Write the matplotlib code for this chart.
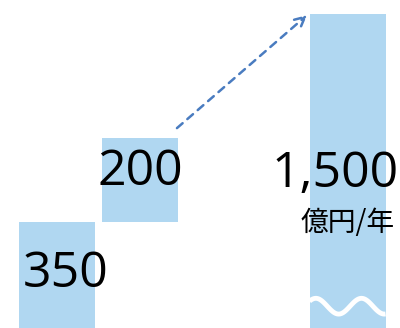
import numpy as np
import matplotlib
matplotlib.use("Agg")
import matplotlib.pyplot as plt

plt.rcParams['font.family'] = ['Open Sans', 'Noto Sans CJK JP', 'DejaVu Sans']

# schematic waterfall (not to scale)
labels = ["350", "200", "1,500"]
values = [350, 200, 1500]
unit = "億円/年"
x_pos = [0, 1, 3.5]
bottoms = [0, 350, 0]
drawn_heights = [350, 277, 1037]   # heights as drawn in the picture

bar_color = "#b0d7f1"
arrow_color = "#4a7cc0"

fig = plt.figure(figsize=(4.0, 3.28), dpi=100)
ax = fig.add_axes([0, 0, 1, 1])
ax.set_xlim(-0.687, -0.687 + 400 / 83)
ax.set_ylim(0, 1083)
ax.axis("off")

ax.bar(x_pos, drawn_heights, bottom=bottoms, width=0.916, color=bar_color, linewidth=0)

# value labels
ax.text(x_pos[0] + 0.1, 135, labels[0], fontsize=36, ha="center", va="baseline")
ax.text(x_pos[1], 472, labels[1], fontsize=36, ha="center", va="baseline")
ax.text(x_pos[2] - 0.15, 466, labels[2], fontsize=36, ha="center", va="baseline")
ax.text(x_pos[2], 320, unit, fontsize=20, ha="center", va="baseline",
        family=['Noto Sans CJK JP', 'DejaVu Sans'])

# dashed arrow from bar 2 to bar 3
ax.annotate("", xy=(x_pos[2] - 0.488, 1033), xytext=(x_pos[1] + 0.445, 660),
            arrowprops=dict(arrowstyle="->", color=arrow_color, lw=1.8,
                            linestyle=(0, (3, 2.5)), mutation_scale=18,
                            shrinkA=0, shrinkB=0))

# wavy break mark at the bottom of the last bar
wx = np.linspace(x_pos[2] - 0.458, x_pos[2] + 0.458, 100)
wy = 72 + 26 * np.sin((wx - (x_pos[2] - 0.458)) * 2 * np.pi / 0.55 + 0.7)
ax.plot(wx, wy, color="white", lw=3.5, solid_capstyle="butt")

fig.savefig("out.png", dpi=100)
